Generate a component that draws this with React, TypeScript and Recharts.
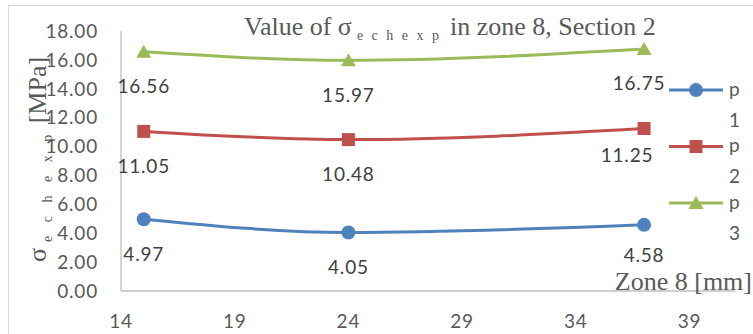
import React from 'react';
import { LineChart, Line, XAxis, YAxis, LabelList } from 'recharts';

const zonePositions = [15, 24, 37];
const p1Values = [4.97, 4.05, 4.58];
const p2Values = [11.05, 10.48, 11.25];
const p3Values = [16.56, 15.97, 16.75];
const xTicks = [14, 19, 24, 29, 34, 39];
const yTicks = [0, 2, 4, 6, 8, 10, 12, 14, 16, 18];

const data = zonePositions.map((x, i) => ({
    x,
    p1: p1Values[i],
    p2: p2Values[i],
    p3: p3Values[i],
}));

const BLUE = '#4F81BD';
const RED = '#C0504D';
const GREEN = '#9BBB59';
const SANS = 'Lato, "Open Sans", sans-serif';
const SERIF = '"Liberation Serif", "DejaVu Serif", serif';

const series = [
    { key: 'p1', name: '1', color: BLUE, shape: 'circle' },
    { key: 'p2', name: '2', color: RED, shape: 'square' },
    { key: 'p3', name: '3', color: GREEN, shape: 'triangle' },
];

// Excel pushed the last labels a bit to the left so they clear the legend
const lastLabelNudge: Record<string, [number, number]> = {
    p1: [0, -4],
    p2: [-17, -8],
    p3: [-5, -1],
};

function Marker({ cx, cy, shape, color }: any) {
    if (cx == null || cy == null) return null;
    if (shape === 'square') {
        return <rect x={cx - 6.5} y={cy - 6.5} width={13} height={13} fill={color} />;
    }
    if (shape === 'triangle') {
        return <polygon points={`${cx},${cy - 7} ${cx + 7.5},${cy + 6} ${cx - 7.5},${cy + 6}`} fill={color} />;
    }
    return <circle cx={cx} cy={cy} r={7} fill={color} />;
}

function ValueLabel({ x, y, value, index, seriesKey }: any) {
    const [nx, ny] = index === zonePositions.length - 1 ? lastLabelNudge[seriesKey] : [0, 0];
    return (
        <text x={x + nx} y={y + 35 + ny} dy="0.35em" textAnchor="middle" fill="#404040" fontFamily={SANS} fontSize={19} letterSpacing={0.8}>
            {Number(value).toFixed(2)}
        </text>
    );
}

// legend drawn by hand: Excel wraps each name "p 1" onto two lines
function LegendBox() {
    return (
        <g transform="translate(669, 78)">
            {series.map((s, i) => {
                const cy = 12 + i * 56.5;
                return (
                    <g key={s.key}>
                        <line x1={0} x2={54} y1={cy} y2={cy} stroke={s.color} strokeWidth={3} />
                        <Marker cx={27} cy={cy} shape={s.shape} color={s.color} />
                        <text x={60} y={cy} dy="0.3em" fill="#595959" fontFamily={SANS} fontSize={19}>p</text>
                        <text x={60} y={cy + 30} dy="0.35em" fill="#595959" fontFamily={SANS} fontSize={19}>{s.name}</text>
                    </g>
                );
            })}
        </g>
    );
}

export default function App() {
    return (
        <div style={{ position: 'absolute', left: 0, top: 0, width: 753, height: 334, background: '#fff' }}>
            <LineChart width={753} height={334} data={data} margin={{ top: 31, right: 18, left: 0, bottom: 0 }}>
                <XAxis
                    type="number"
                    dataKey="x"
                    domain={[14, 41]}
                    ticks={xTicks}
                    height={43}
                    tickSize={0}
                    tickMargin={24}
                    tickLine={false}
                    axisLine={{ stroke: '#BFBFBF', strokeWidth: 1.3 }}
                    tick={{ fill: '#595959', fontSize: 19, fontFamily: SANS, letterSpacing: 0.8 }}
                />
                <YAxis
                    type="number"
                    domain={[0, 18]}
                    ticks={yTicks}
                    width={121}
                    tickSize={0}
                    tickMargin={23}
                    tickLine={false}
                    axisLine={{ stroke: '#BFBFBF', strokeWidth: 1.3 }}
                    tickFormatter={(v: number) => v.toFixed(2)}
                    tick={{ fill: '#595959', fontSize: 19, fontFamily: SANS, letterSpacing: 0.8 }}
                />
                {series.map((s) => (
                    <Line
                        key={s.key}
                        type="monotone"
                        dataKey={s.key}
                        name={s.name}
                        stroke={s.color}
                        strokeWidth={3}
                        isAnimationActive={false}
                        dot={(props: any) => <Marker key={`${s.key}-${props.index}`} cx={props.cx} cy={props.cy} shape={s.shape} color={s.color} />}
                        activeDot={false}
                    >
                        <LabelList dataKey={s.key} content={(props: any) => <ValueLabel {...props} seriesKey={s.key} />} />
                    </Line>
                ))}
            </LineChart>
            <svg width={753} height={334} style={{ position: 'absolute', left: 0, top: 0, pointerEvents: 'none' }}>
                <rect x={8.5} y={5.5} width={800} height={400} fill="none" stroke="#D9D9D9" strokeWidth={1} />
                <text x={244} y={35} fill="#595959" fontFamily={SERIF} fontSize={26}>
                    Value of σ
                    <tspan dx={5} dy={5} fontSize={14} letterSpacing={2.5}>e c h e x p</tspan>
                    <tspan dx={2} dy={-5} fontSize={26}> in zone 8, Section 2</tspan>
                </text>
                <text transform="translate(46, 262) rotate(-90)" fill="#595959" fontFamily={SERIF} fontSize={26}>
                    σ
                    <tspan dx={6} dy={6} fontSize={14} letterSpacing={5}>e c h e x p</tspan>
                    <tspan dx={0} dy={-6} fontSize={26}> [MPa]</tspan>
                </text>
                <text x={752} y={290} textAnchor="end" fill="#595959" fontFamily={SERIF} fontSize={26}>Zone 8 [mm]</text>
                <LegendBox />
            </svg>
        </div>
    );
}
